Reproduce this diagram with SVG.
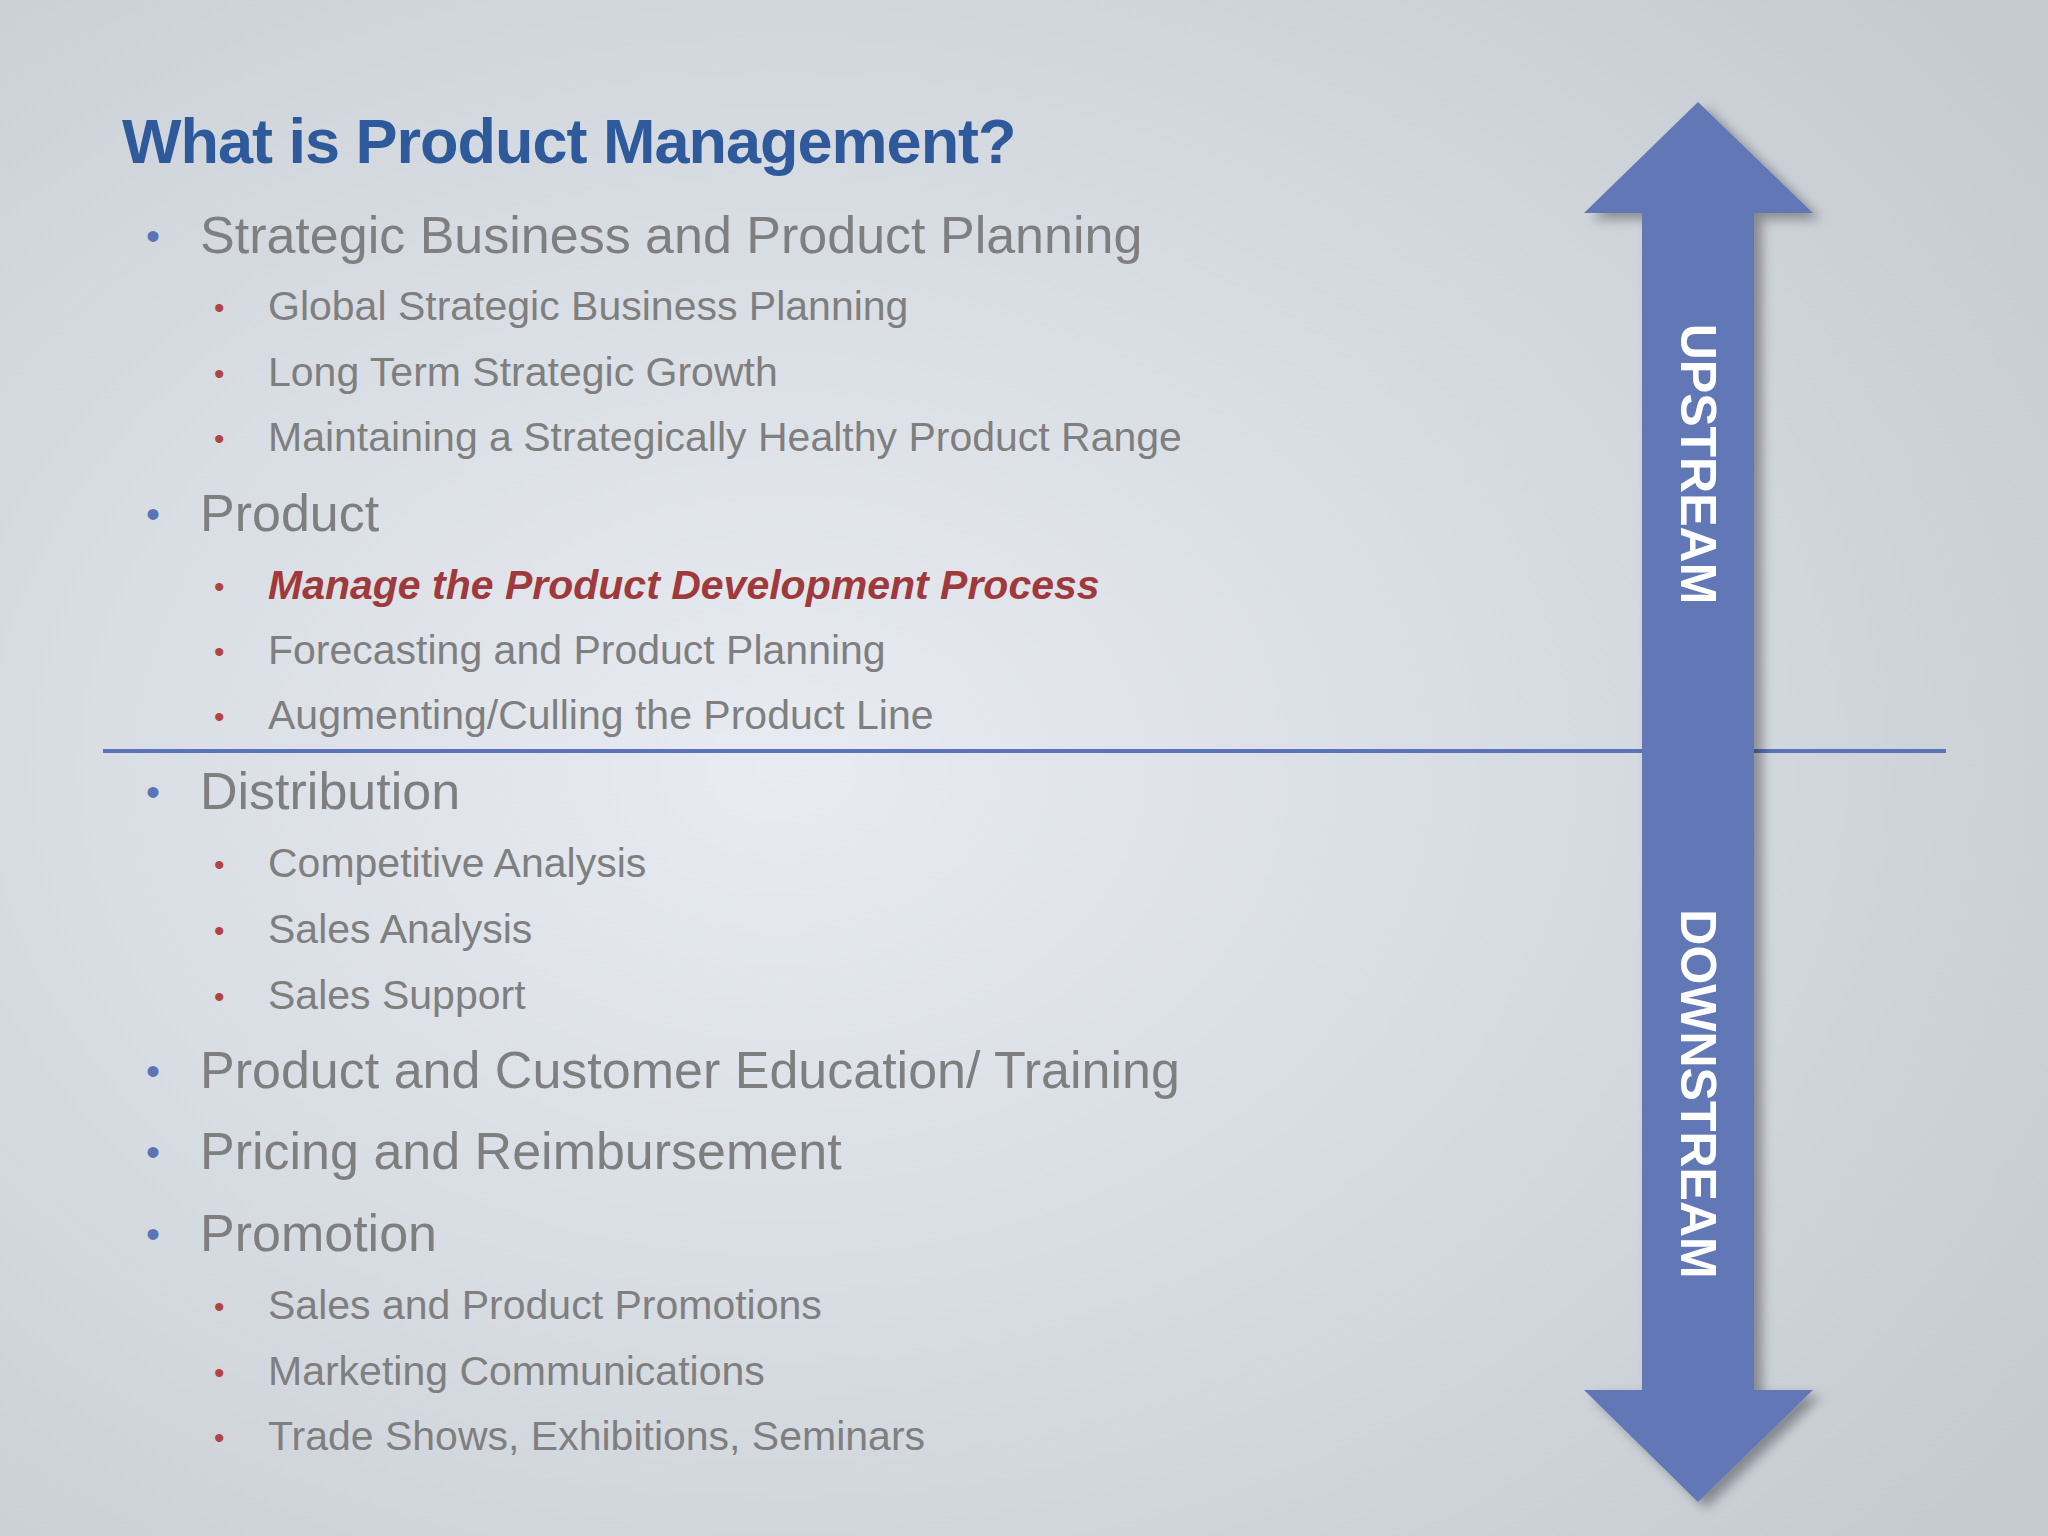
<svg xmlns="http://www.w3.org/2000/svg" width="2048" height="1536" viewBox="0 0 2048 1536">
<defs>
<radialGradient id="bg" cx="0.38" cy="0.5" r="0.75">
<stop offset="0" stop-color="#E8ECF2"/><stop offset="1" stop-color="#C6CBD2"/>
</radialGradient>
<filter id="sh" x="-20%" y="-10%" width="140%" height="120%"><feDropShadow dx="8" dy="6" stdDeviation="6" flood-color="#000" flood-opacity="0.35"/></filter>
<style>
.l1{font-family:"Liberation Sans",Arial,sans-serif;font-size:52px;fill:#7F7F7F}
.l2{font-family:"Liberation Sans",Arial,sans-serif;font-size:41px;fill:#7F7F7F}
.b1{font-family:"Liberation Sans",Arial,sans-serif;font-size:40px;fill:#5B74B5}
.b2{font-family:"Liberation Sans",Arial,sans-serif;font-size:30px;fill:#B04444}
.ar{font-family:"Liberation Sans",Arial,sans-serif;font-size:50px;font-weight:bold;fill:#fff}
</style>
</defs>
<rect width="2048" height="1536" fill="url(#bg)"/>
<text x="122" y="163" font-family="Liberation Sans,Arial,sans-serif" font-size="63" font-weight="bold" fill="#2E5A9C" letter-spacing="-1">What is Product Management?</text>
<g id="items">
<text class="b1" x="146" y="250">•</text><text class="l1" x="200" y="253">Strategic Business and Product Planning</text>
<text class="b2" x="214" y="318">•</text><text class="l2" x="268" y="320">Global Strategic Business Planning</text>
<text class="b2" x="214" y="384">•</text><text class="l2" x="268" y="386">Long Term Strategic Growth</text>
<text class="b2" x="214" y="449">•</text><text class="l2" x="268" y="451">Maintaining a Strategically Healthy Product Range</text>
<text class="b1" x="146" y="528">•</text><text class="l1" x="200" y="531">Product</text>
<text class="b2" x="214" y="597">•</text><text class="l2" x="268" y="599" font-weight="bold" font-style="italic" style="fill:#A0393B">Manage the Product Development Process</text>
<text class="b2" x="214" y="662">•</text><text class="l2" x="268" y="664">Forecasting and Product Planning</text>
<text class="b2" x="214" y="727">•</text><text class="l2" x="268" y="729">Augmenting/Culling the Product Line</text>
<text class="b1" x="146" y="806">•</text><text class="l1" x="200" y="809">Distribution</text>
<text class="b2" x="214" y="875">•</text><text class="l2" x="268" y="877">Competitive Analysis</text>
<text class="b2" x="214" y="941">•</text><text class="l2" x="268" y="943">Sales Analysis</text>
<text class="b2" x="214" y="1007">•</text><text class="l2" x="268" y="1009">Sales Support</text>
<text class="b1" x="146" y="1085">•</text><text class="l1" x="200" y="1088">Product and Customer Education/ Training</text>
<text class="b1" x="146" y="1166">•</text><text class="l1" x="200" y="1169">Pricing and Reimbursement</text>
<text class="b1" x="146" y="1248">•</text><text class="l1" x="200" y="1251">Promotion</text>
<text class="b2" x="214" y="1317">•</text><text class="l2" x="268" y="1319">Sales and Product Promotions</text>
<text class="b2" x="214" y="1383">•</text><text class="l2" x="268" y="1385">Marketing Communications</text>
<text class="b2" x="214" y="1448">•</text><text class="l2" x="268" y="1450">Trade Shows, Exhibitions, Seminars</text>
</g>
<g id="connectors">
<line x1="103" y1="751" x2="1946" y2="751" stroke="#5B74B5" stroke-width="4"/>
</g>
<g id="arrow">
<polygon points="1698,102 1813,213 1754,213 1754,1390 1813,1390 1698,1502 1584,1390 1642,1390 1642,213 1584,213" fill="#6277B5" filter="url(#sh)"/>
<text class="ar" transform="translate(1681,464) rotate(90)" text-anchor="middle">UPSTREAM</text>
<text class="ar" transform="translate(1681,1094) rotate(90)" text-anchor="middle">DOWNSTREAM</text>
</g>
</svg>
